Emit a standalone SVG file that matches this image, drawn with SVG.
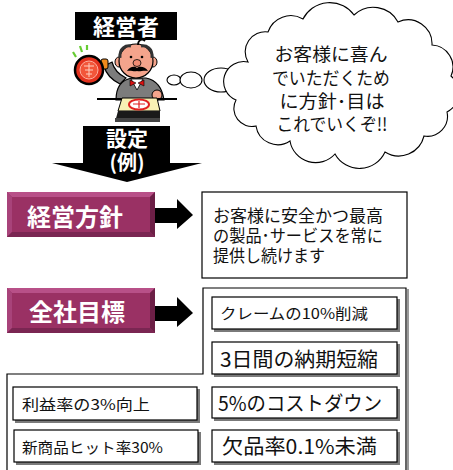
<svg xmlns="http://www.w3.org/2000/svg" width="453" height="470" viewBox="0 0 453 470">
  <style>
    .jp { font-family: "Noto Sans CJK JP", "Liberation Sans", sans-serif; }
    .wt { fill: #ffffff; font-weight: bold; }
    .bk { fill: #111111; }
    .frame { fill: #ffffff; stroke: #000000; stroke-width: 1.2; }
    .shadow { fill: #7a7a7a; }
    .line { fill: none; stroke: #000000; stroke-width: 1.2; }
    .cloud { fill: #ffffff; stroke: #000000; stroke-width: 1.1; }
  </style>
  <defs>
    <!-- right-pointing block arrow used between label bars and their boxes -->
    <polygon id="rarrow" points="0,9 22,9 22,0 38,16 22,30 22,24 0,24" fill="#000000"/>
  </defs>

  <rect width="453" height="470" fill="#ffffff"/>

  <!-- manager label -->
  <g id="manager-label">
    <rect x="75" y="12" width="102" height="28" fill="#000000"/>
    <text class="jp wt" x="126" y="35" font-size="22" text-anchor="middle">経営者</text>
  </g>

  <!-- manager figure with seal -->
  <g id="manager-figure">
    <!-- green motion ticks -->
    <path d="M73,52 L76,57 M80,46 L82,52 M87,45 L87,50" stroke="#66cc33" stroke-width="2.2" fill="none"/>
    <!-- raised arm -->
    <path d="M120,84 C112,80 106,74 104,66 L112,62 C114,70 120,75 126,78 Z" fill="#7c7c7c" stroke="#000" stroke-width="1.2"/>
    <!-- seal handle -->
    <rect x="101" y="59" width="7" height="10" rx="2" fill="#f08a1c" stroke="#000" stroke-width="1"/>
    <!-- seal face -->
    <circle cx="89" cy="70" r="14" fill="#e3321e" stroke="#000" stroke-width="2.5"/>
    <circle cx="89" cy="70" r="9" fill="#f2563a" stroke="#ffb0a0" stroke-width="1"/>
    <path d="M84,66 L94,66 M85,70 L93,70 M86,74 L92,74 M89,63 L89,77" stroke="#ffd0c0" stroke-width="1"/>
    <!-- body / suit -->
    <path d="M116,100 C116,88 120,80 132,78 L146,78 C156,80 162,86 164,100 Z" fill="#7c7c7c" stroke="#000" stroke-width="1.2"/>
    <!-- shirt and bow tie -->
    <path d="M131,79 L137,90 L143,79 Z" fill="#ffffff" stroke="#000" stroke-width="0.8"/>
    <path d="M130,80 L136,83 L130,86 Z M144,80 L138,83 L144,86 Z" fill="#dd1111" stroke="#000" stroke-width="0.6"/>
    <!-- head -->
    <ellipse cx="119" cy="62" rx="4" ry="5" fill="#f4a48c" stroke="#000" stroke-width="1"/>
    <ellipse cx="153" cy="62" rx="4" ry="5" fill="#f4a48c" stroke="#000" stroke-width="1"/>
    <ellipse cx="136" cy="61" rx="17" ry="17" fill="#f4a48c" stroke="#000" stroke-width="1.2"/>
    <!-- hair -->
    <path d="M120,58 C119,48 126,45 131,46 M152,58 C153,48 146,45 141,46" stroke="#333" stroke-width="3" fill="none"/>
    <path d="M138,45 C138,40 142,38 145,41" stroke="#000" stroke-width="1.8" fill="none"/>
    <!-- eyes, nose, moustache -->
    <circle cx="131" cy="57" r="1.3" fill="#000"/>
    <circle cx="142" cy="57" r="1.3" fill="#000"/>
    <ellipse cx="137" cy="63" rx="4" ry="3.5" fill="#f08c74" stroke="#000" stroke-width="0.8"/>
    <path d="M127,71 C130,66 135,66 137,68 C139,66 145,66 148,71 C143,70 140,72 137,71 C134,72 131,70 127,71 Z" fill="#000"/>
    <!-- right hand -->
    <ellipse cx="157" cy="95" rx="5" ry="5" fill="#f4a48c" stroke="#000" stroke-width="1"/>
    <!-- desk edge -->
    <line x1="97" y1="99" x2="177" y2="99" stroke="#000" stroke-width="2"/>
    <!-- document and seal mark -->
    <polygon points="122,98 157,98 160,111 118,111" fill="#f8f0b4" stroke="#000" stroke-width="1"/>
    <ellipse cx="139" cy="104.5" rx="10" ry="5" fill="#ffffff" stroke="#e02020" stroke-width="2"/>
    <path d="M133,104 L145,104 M139,101 L139,108" stroke="#e02020" stroke-width="1.2"/>
    <!-- desk base -->
    <polygon points="118,111 160,111 160,122 115,122" fill="#1a1a1a"/>
    <rect x="115" y="118" width="45" height="4" fill="#444"/>
  </g>

  <!-- thought cloud -->
  <g id="thought-cloud">
    <ellipse class="cloud" cx="174" cy="80" rx="7" ry="5"/>
    <ellipse class="cloud" cx="191" cy="80" rx="11" ry="8"/>
    <ellipse class="cloud" cx="221" cy="80" rx="17" ry="12"/>
    <path class="cloud" d="M248,62 A20,20 0 0 1 268,32 A24,24 0 0 1 303,19 A30,30 0 0 1 354,15 A28,28 0 0 1 398,22 A24,24 0 0 1 432,45 A22,22 0 0 1 451,76 A22,22 0 0 1 447,112 A20,20 0 0 1 424,136 A26,26 0 0 1 385,152 A28,28 0 0 1 335,154 A26,26 0 0 1 290,141 A22,22 0 0 1 256,126 A18,18 0 0 1 236,100 A20,20 0 0 1 248,62 Z"/>
    <text class="jp bk" font-size="18" text-anchor="middle">
      <tspan x="333" y="61" textLength="113" lengthAdjust="spacingAndGlyphs">お客様に喜ん</tspan>
      <tspan x="333" y="85" textLength="118" lengthAdjust="spacingAndGlyphs">でいただくため</tspan>
      <tspan x="334" y="108" textLength="105" lengthAdjust="spacingAndGlyphs">に方針･目は</tspan>
      <tspan x="332" y="131" textLength="111" lengthAdjust="spacingAndGlyphs">これでいくぞ!!</tspan>
    </text>
  </g>

  <!-- downward block arrow -->
  <g id="setting-arrow">
    <polygon points="83,126 170,126 170,163 202,163 127,182 52,163 83,163" fill="#000000"/>
    <text class="jp wt" x="127" y="146" font-size="21" text-anchor="middle">設定</text>
    <text class="jp wt" x="127" y="170" font-size="20" text-anchor="middle">(例)</text>
  </g>

  <!-- policy label bar -->
  <g id="policy-label">
    <rect x="7" y="192" width="148" height="45" fill="#9a3164"/>
    <polygon points="7,192 155,192 150,197 12,197" fill="#b85088"/>
    <polygon points="7,192 12,197 12,232 7,237" fill="#a8437a"/>
    <polygon points="155,192 155,237 150,232 150,197" fill="#6c1f46"/>
    <polygon points="7,237 155,237 150,232 12,232" fill="#7a2652"/>
    <text class="jp wt" x="75" y="226" font-size="24" text-anchor="middle">経営方針</text>
  </g>

  <!-- company targets label bar -->
  <g id="target-label">
    <rect x="7" y="288" width="148" height="45" fill="#9a3164"/>
    <polygon points="7,288 155,288 150,293 12,293" fill="#b85088"/>
    <polygon points="7,288 12,293 12,328 7,333" fill="#a8437a"/>
    <polygon points="155,288 155,333 150,328 150,293" fill="#6c1f46"/>
    <polygon points="7,333 155,333 150,328 12,328" fill="#7a2652"/>
    <text class="jp wt" x="77" y="321" font-size="24" text-anchor="middle">全社目標</text>
  </g>

  <!-- policy statement box -->
  <g id="policy-box">
    <rect class="frame" x="202" y="192" width="205" height="86"/>
    <text class="jp bk" font-size="16.5">
      <tspan x="213" y="222" textLength="170" lengthAdjust="spacingAndGlyphs">お客様に安全かつ最高</tspan>
      <tspan x="213" y="242" textLength="170" lengthAdjust="spacingAndGlyphs">の製品･サービスを常に</tspan>
      <tspan x="213" y="262" textLength="112" lengthAdjust="spacingAndGlyphs">提供し続けます</tspan>
    </text>
  </g>

  <!-- target group outline -->
  <g id="target-group">
    <path class="line" d="M406,470 L406,288 L203,288 L203,374 L7,374 L7,470"/>
    <line x1="408" y1="289" x2="408" y2="470" stroke="#9a9a9a" stroke-width="2"/>
  </g>

  <g id="target-claims">
    <rect class="shadow" x="214" y="299" width="186" height="33"/>
    <rect class="frame" x="212" y="297" width="185" height="32"/>
    <text class="jp bk" x="220" y="319" font-size="15" textLength="148" lengthAdjust="spacingAndGlyphs">クレームの10%削減</text>
  </g>
  <g id="target-delivery">
    <rect class="shadow" x="214" y="344" width="186" height="33"/>
    <rect class="frame" x="212" y="342" width="185" height="32"/>
    <text class="jp bk" x="220" y="367" font-size="20" textLength="158" lengthAdjust="spacingAndGlyphs">3日間の納期短縮</text>
  </g>
  <g id="target-cost">
    <rect class="shadow" x="214" y="389" width="186" height="32"/>
    <rect class="frame" x="212" y="387" width="185" height="31"/>
    <text class="jp bk" x="218" y="411" font-size="20" textLength="164" lengthAdjust="spacingAndGlyphs">5%のコストダウン</text>
  </g>
  <g id="target-stockout">
    <rect class="shadow" x="214" y="432" width="186" height="33"/>
    <rect class="frame" x="212" y="430" width="185" height="32"/>
    <text class="jp bk" x="222" y="454" font-size="20" textLength="155" lengthAdjust="spacingAndGlyphs">欠品率0.1%未満</text>
  </g>
  <g id="target-margin">
    <rect class="shadow" x="15" y="389" width="185" height="34"/>
    <rect class="frame" x="13" y="387" width="184" height="33"/>
    <text class="jp bk" x="22" y="410" font-size="15" textLength="128" lengthAdjust="spacingAndGlyphs">利益率の3%向上</text>
  </g>
  <g id="target-hits">
    <rect class="shadow" x="16" y="432" width="185" height="33"/>
    <rect class="frame" x="14" y="430" width="184" height="32"/>
    <text class="jp bk" x="22" y="453" font-size="15" textLength="141" lengthAdjust="spacingAndGlyphs">新商品ヒット率30%</text>
  </g>

  <!-- connectors -->
  <g id="connectors">
    <use href="#rarrow" x="155" y="199"/>
    <use href="#rarrow" x="155" y="297"/>
  </g>
</svg>
